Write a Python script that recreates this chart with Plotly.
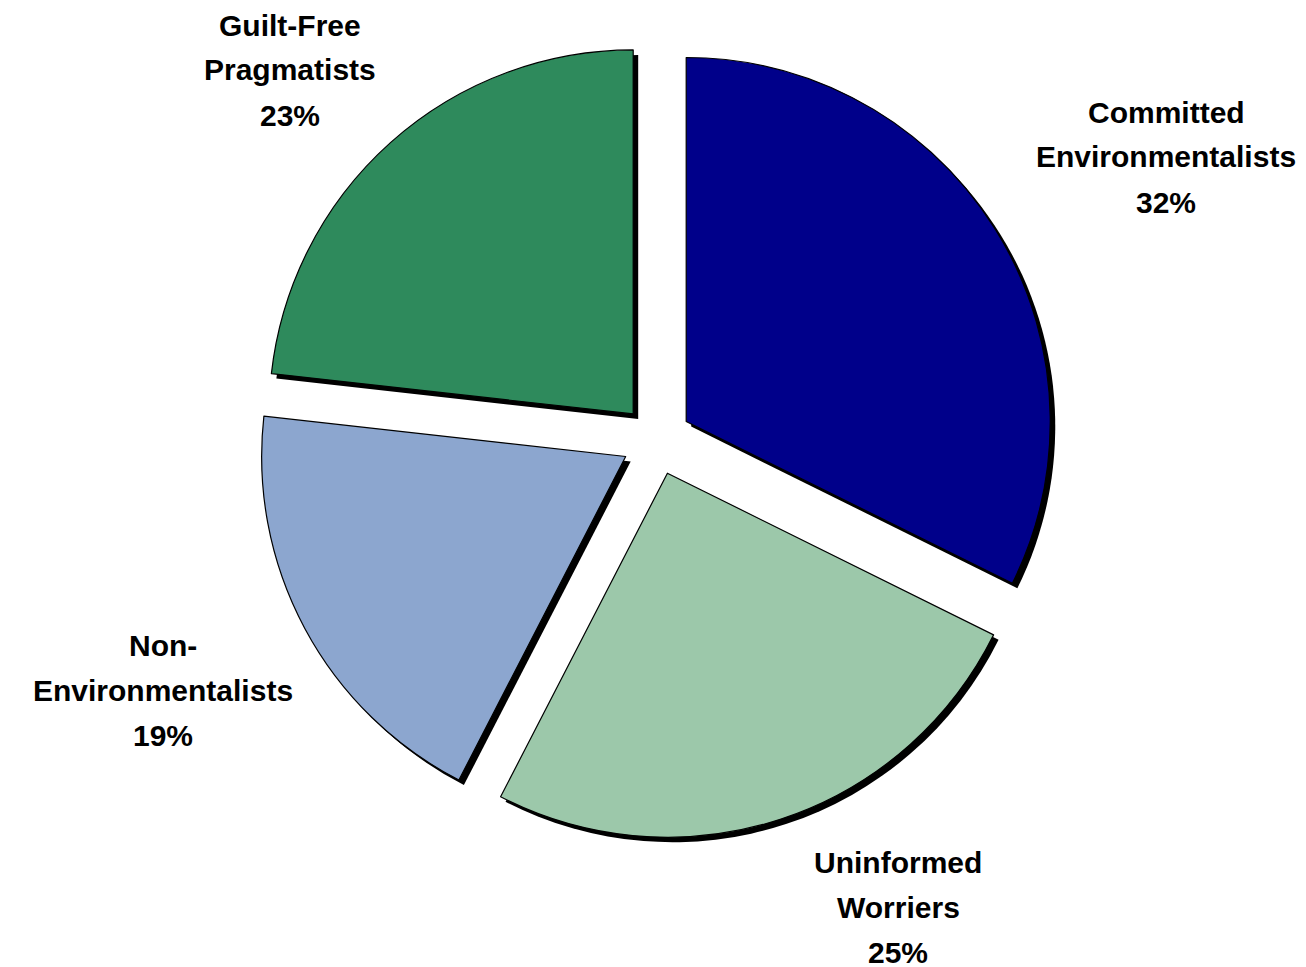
import plotly.graph_objects as go

# ---- data ----
segments = ["Committed\nEnvironmentalists", "Uninformed\nWorriers",
            "Non-\nEnvironmentalists", "Guilt-Free\nPragmatists"]
shares = [32, 25, 19, 23]
colors = ["#00008a", "#9cc8aa", "#8ca6cf", "#2e8a5c"]

W, H = 1306, 967
cx, cy = 648.5, 432        # pie domain centre in px
R_OUT = 399                # half of domain size in px
PULL = 0.096
SHADOW = 5

def dom(dx=0, dy=0):
    return dict(x=[(cx - R_OUT + dx) / W, (cx + R_OUT + dx) / W],
                y=[1 - (cy + R_OUT + dy) / H, 1 - (cy - R_OUT + dy) / H])

fig = go.Figure()
# shadow layer
fig.add_trace(go.Pie(
    labels=segments, values=shares, sort=False, direction="clockwise",
    rotation=0, pull=PULL, textinfo="none", hoverinfo="skip",
    marker=dict(colors=["#000000"] * len(shares), line=dict(width=0)),
    domain=dom(SHADOW, SHADOW), showlegend=False))
# main pie
fig.add_trace(go.Pie(
    labels=segments, values=shares, sort=False, direction="clockwise",
    rotation=0, pull=PULL, textinfo="none",
    marker=dict(colors=colors, line=dict(color="#000000", width=1.2)),
    domain=dom(), showlegend=False))

# label blocks: (centre x px, first-line y px)
label_pos = [(1158, 104), (890, 854), (155, 637), (282, 17)]
LINE = 45
for name, val, (lx, ly) in zip(segments, shares, label_pos):
    lines = name.split("\n") + [f"{val}%"]
    for i, t in enumerate(lines):
        fig.add_annotation(
            x=lx / W, y=1 - (ly + i * LINE) / H, xref="paper", yref="paper",
            text=f"<b>{t}</b>", showarrow=False, xanchor="center", yanchor="middle",
            font=dict(family="Liberation Sans, Arial, sans-serif", size=30, color="#000000"))

fig.update_layout(width=W, height=H, margin=dict(l=0, r=0, t=0, b=0),
                  paper_bgcolor="white", plot_bgcolor="white")
fig.write_html("out.html")
